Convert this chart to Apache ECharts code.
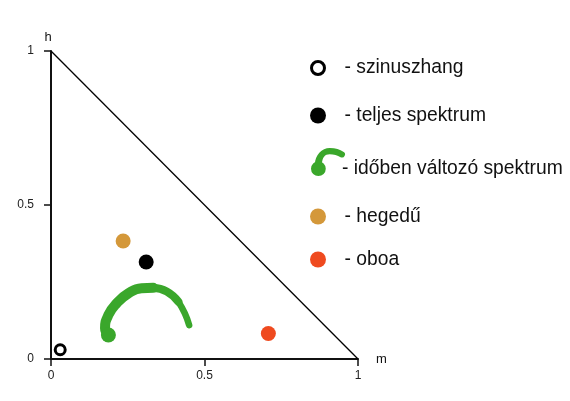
<!DOCTYPE html>
<html>
<head>
    <meta charset="utf-8">
    <title>h - m</title>
    <script src="https://cdn.jsdelivr.net/npm/echarts@6/dist/echarts.min.js"></script>
    <style>
        html, body { margin: 0; padding: 0; background: #fff; }
        #chart { width: 570px; height: 401px; }
    </style>
</head>
<body>
<div id="chart"></div>
<script type="text/javascript">
    // tick values of both axes
    const ticks = [0, 0.5, 1];

    // points, [m, h]
    const sineData = [[0.03, 0.03]];
    const fullData = [[0.31, 0.315]];
    const violinData = [[0.235, 0.383]];
    const oboeData = [[0.708, 0.083]];
    const varyingData = [
        [0.187, 0.078], [0.176, 0.100], [0.187, 0.143], [0.214, 0.181],
        [0.252, 0.213], [0.295, 0.230], [0.333, 0.231], [0.377, 0.219],
        [0.415, 0.186], [0.436, 0.148], [0.450, 0.110]
    ];
    // the m + h = 1 border
    const boundary = [[0, 1], [1, 0]];

    const names = ['- szinuszhang', '- teljes spektrum', '- időben változó spektrum', '- hegedű', '- oboa'];
    const colors = {sine: '#000', full: '#000', varying: '#3aa72b', violin: '#d4983a', oboe: '#ef4a1f'};

    const font = "'Liberation Sans', Helvetica, Arial, sans-serif";
    // curl icon (dot + band, both clockwise so they merge);
    // the last empty piece only stretches the box so the text lines up with the dot
    const curlIcon = 'path://M1,21.5a7.5,7.5 0 1,1 15,0a7.5,7.5 0 1,1 -15,0Z' +
        'M5,17C5,8 12,0.5 20,0.5C26,0.5 30.5,2 33.8,4.2A3,3 0 0,1 31,9.8' +
        'C28,8 24,6.8 20,6.8C15,6.8 12.5,10 12,17Z' +
        'M17,42l0.01,0Z';

    function legendRow(name, top, extra) {
        return Object.assign({
            data: [name],
            left: 310,
            top: top,
            padding: 0,
            orient: 'vertical',
            selectedMode: false,
            icon: 'circle',
            itemWidth: 43,
            itemHeight: 16,
            textStyle: {fontFamily: font, fontSize: 19.3, color: '#111'}
        }, extra);
    }

    const axisCommon = {
        type: 'value',
        min: 0,
        max: 1,
        interval: 0.5,
        splitLine: {show: false},
        axisLine: {lineStyle: {color: '#111', width: 2}},
        axisTick: {length: 7, lineStyle: {color: '#111', width: 1.5}},
        nameTextStyle: {fontFamily: font, fontSize: 13, color: '#111'},
        axisLabel: {
            fontFamily: font, fontSize: 12, color: '#222',
            customValues: ticks
        }
    };

    let myChart = echarts.init(document.getElementById('chart'));

    myChart.setOption({
        animation: false,
        backgroundColor: '#fff',
        grid: {left: 51, top: 51, width: 307, height: 308},
        xAxis: Object.assign({}, axisCommon, {
            name: 'm', nameLocation: 'end', nameGap: 18,
            axisLabel: Object.assign({}, axisCommon.axisLabel, {margin: 11})
        }),
        yAxis: Object.assign({}, axisCommon, {
            name: 'h', nameLocation: 'end', nameGap: 7,
            nameTextStyle: {fontFamily: font, fontSize: 13, color: '#111', padding: [0, 6, 0, 0]},
            axisLabel: Object.assign({}, axisCommon.axisLabel, {margin: 17})
        }),
        legend: [
            legendRow(names[0], 58.5, {
                itemHeight: 13,
                itemStyle: {color: '#fff', borderColor: '#000', borderWidth: 3, opacity: 1}
            }),
            legendRow(names[1], 106, {itemStyle: {color: colors.full, borderWidth: 0, opacity: 1}}),
            legendRow(names[2], 148, {
                left: 311,
                icon: curlIcon,
                itemWidth: 34,
                itemHeight: 41,
                itemStyle: {color: colors.varying, borderWidth: 0, opacity: 1},
                textStyle: {fontFamily: font, fontSize: 19.3, color: '#111', padding: [0, 0, 0, -8]}
            }),
            legendRow(names[3], 207, {itemStyle: {color: colors.violin, borderWidth: 0, opacity: 1}}),
            legendRow(names[4], 250, {itemStyle: {color: colors.oboe, borderWidth: 0, opacity: 1}})
        ],
        series: [
            {
                type: 'line',
                data: boundary,
                symbol: 'none',
                silent: true,
                lineStyle: {color: '#000', width: 1.3},
                z: 1
            },
            {
                name: names[2],
                type: 'line',
                data: varyingData.slice(0, 7),
                smooth: true,
                symbol: 'circle',
                symbolSize: (v, p) => p.dataIndex === 0 ? 15 : 0,
                itemStyle: {color: colors.varying},
                lineStyle: {color: colors.varying, width: 10, cap: 'round', join: 'round'}
            },
            {
                name: names[2],
                type: 'line',
                data: varyingData.slice(6, 9),
                smooth: true,
                symbol: 'none',
                itemStyle: {color: colors.varying},
                lineStyle: {color: colors.varying, width: 8, cap: 'round', join: 'round'}
            },
            {
                name: names[2],
                type: 'line',
                data: varyingData.slice(8),
                smooth: true,
                symbol: 'none',
                itemStyle: {color: colors.varying},
                lineStyle: {color: colors.varying, width: 6.5, cap: 'round', join: 'round'}
            },
            {
                name: names[0],
                type: 'scatter',
                data: sineData,
                symbolSize: 10,
                itemStyle: {color: '#fff', borderColor: '#000', borderWidth: 3, opacity: 1}
            },
            {
                name: names[1],
                type: 'scatter',
                data: fullData,
                symbolSize: 15,
                itemStyle: {color: colors.full, opacity: 1}
            },
            {
                name: names[3],
                type: 'scatter',
                data: violinData,
                symbolSize: 15,
                itemStyle: {color: colors.violin, opacity: 1}
            },
            {
                name: names[4],
                type: 'scatter',
                data: oboeData,
                symbolSize: 15,
                itemStyle: {color: colors.oboe, opacity: 1}
            }
        ]
    });
</script>
</body>
</html>
